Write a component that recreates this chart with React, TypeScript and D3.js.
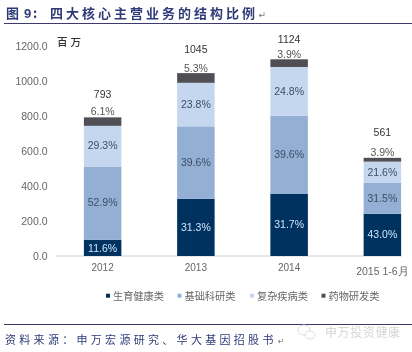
import React from "react";
import * as d3 from "d3";

const years = ["2012", "2013", "2014", "2015 1-6月"];
const totals = [793, 1045, 1124, 561];
const seriesNames = ["生育健康类", "基础科研类", "复杂疾病类", "药物研发类"];
const health = [11.6, 31.3, 31.7, 43.0];
const basic = [52.9, 39.6, 39.6, 31.5];
const complex = [29.3, 23.8, 24.8, 21.6];
const drug = [6.1, 5.3, 3.9, 3.9];
const yTicks = [0, 200, 400, 600, 800, 1000, 1200];
const colors = ["#02305f", "#93afd4", "#c5d7ee", "#505055"];
const labelColors = ["#cfe6fa", "#3d4d66", "#3d4d66", "#444"];
const legendX = [106, 177.5, 250, 321.5];
const totalGap = [19, 20, 16, 22];
const drugGap = [2, 1, 1, 2];
const cjk = '"Noto Sans CJK SC", sans-serif';

export default function App() {
  const x = d3.scaleBand<string>().domain(years).range([56, 429]);
  const y = d3.scaleLinear().domain([0, 1200]).range([256, 46]);
  const barW = 37.5;
  const cx = (yr: string) => (x(yr) as number) + x.bandwidth() / 2;
  const rows = [health, basic, complex, drug];
  const stacks = years.map((_, i) => {
    let acc = 0;
    return rows.map((r) => {
      const v = (r[i] / 100) * totals[i];
      const s = { y0: acc, y1: acc + v, pct: r[i] };
      acc += v;
      return s;
    });
  });
  return (
    <svg width={412} height={352} style={{ position: "absolute", left: 0, top: 0, background: "#fff" }}>
      <defs>
        <filter id="soft" x="-5%" y="-5%" width="110%" height="110%">
          <feGaussianBlur stdDeviation="0.45" />
        </filter>
      </defs>
      <g filter="url(#soft)">
        <text x={6} y={18} fontFamily={cjk} fontWeight={700} fontSize={13} fill="#2f3b78">图</text>
        <text x={24} y={18} fontFamily="Liberation Sans" fontWeight={700} fontSize={13} fill="#2f3b78">9</text>
        <text x={33} y={18} fontFamily={cjk} fontWeight={700} fontSize={13} fill="#2f3b78">:</text>
        <text x={50} y={18} fontFamily={cjk} fontWeight={700} fontSize={13} letterSpacing={3} fill="#2f3b78">
          四大核心主营业务的结构比例
        </text>
        <text x={258.5} y={18} fontFamily="DejaVu Sans" fontSize={9} fill="#777">↵</text>
        <line x1={4} x2={412} y1={23.5} y2={23.5} stroke="#3c3a6e" strokeWidth={1} />
        <text x={57} y={46} fontFamily={cjk} fontWeight={500} fontSize={10.5} letterSpacing={3} fill="#333">百万</text>
        {yTicks.map((t) => (
          <text key={t} x={47.5} y={y(t) + 4} textAnchor="end" fontFamily="Liberation Sans" fontSize={10.5} fill="#666">
            {t.toFixed(1)}
          </text>
        ))}
        <line x1={56} x2={402} y1={256} y2={256} stroke="#c9d2dc" strokeWidth={1} />
        {years.map((yr, i) => (
          <g key={yr}>
            {stacks[i].map((s, k) => (
              <rect key={k} x={cx(yr) - barW / 2} width={barW} y={y(s.y1)} height={y(s.y0) - y(s.y1)} fill={colors[k]} />
            ))}
            {stacks[i].slice(0, 3).map((s, k) => {
              const mid = (y(s.y0) + y(s.y1)) / 2;
              const dy = i === 0 && k === 0 ? 1 : 0;
              return (
                <text key={k} x={cx(yr)} y={mid + dy + 3.3} textAnchor="middle" fontFamily="Liberation Sans" fontSize={10.5} fill={labelColors[k]}>
                  {s.pct.toFixed(1)}%
                </text>
              );
            })}
            <text x={cx(yr)} y={y(totals[i]) - drugGap[i]} textAnchor="middle" fontFamily="Liberation Sans" fontSize={10.5} fill="#555">
              {drug[i].toFixed(1)}%
            </text>
            <text x={cx(yr)} y={y(totals[i]) - totalGap[i]} textAnchor="middle" fontFamily="Liberation Sans" fontSize={10.5} fill="#333">
              {totals[i]}
            </text>
            <text x={cx(yr)} y={i === 3 ? 275 : 271} textAnchor="middle" fontFamily="Liberation Sans" fontSize={i === 3 ? 10.5 : 10} fill="#666">
              {yr}
            </text>
          </g>
        ))}
        {seriesNames.map((n, k) => (
          <g key={n}>
            <rect x={legendX[k]} y={293.7} width={4} height={4} fill={colors[k]} />
            <text x={legendX[k] + 7} y={299.5} fontFamily={cjk} fontSize={10.2} fill="#666">{n}</text>
          </g>
        ))}
        <line x1={4} x2={412} y1={324.5} y2={324.5} stroke="#3c3a6e" strokeWidth={1} />
        <text x={5} y={344} fontFamily={cjk} fontSize={11} letterSpacing={3.3} fill="#2f3b78">
          {"资料来源\uFF1A申万宏源研究、华大基因招股书"}
        </text>
        <text x={278} y={344} fontFamily="DejaVu Sans" fontSize={8} fill="#777">↵</text>
        <text x={325} y={337} fontFamily={cjk} fontSize={12} letterSpacing={0.6} fill="#d6d6d6">申万投资健康</text>
        <ellipse cx={304} cy={330} rx={6} ry={5} fill="none" stroke="#dcdcdc" strokeWidth={1} />
        <ellipse cx={310} cy={335} rx={5} ry={4} fill="#fff" stroke="#dcdcdc" strokeWidth={1} />
      </g>
    </svg>
  );
}
